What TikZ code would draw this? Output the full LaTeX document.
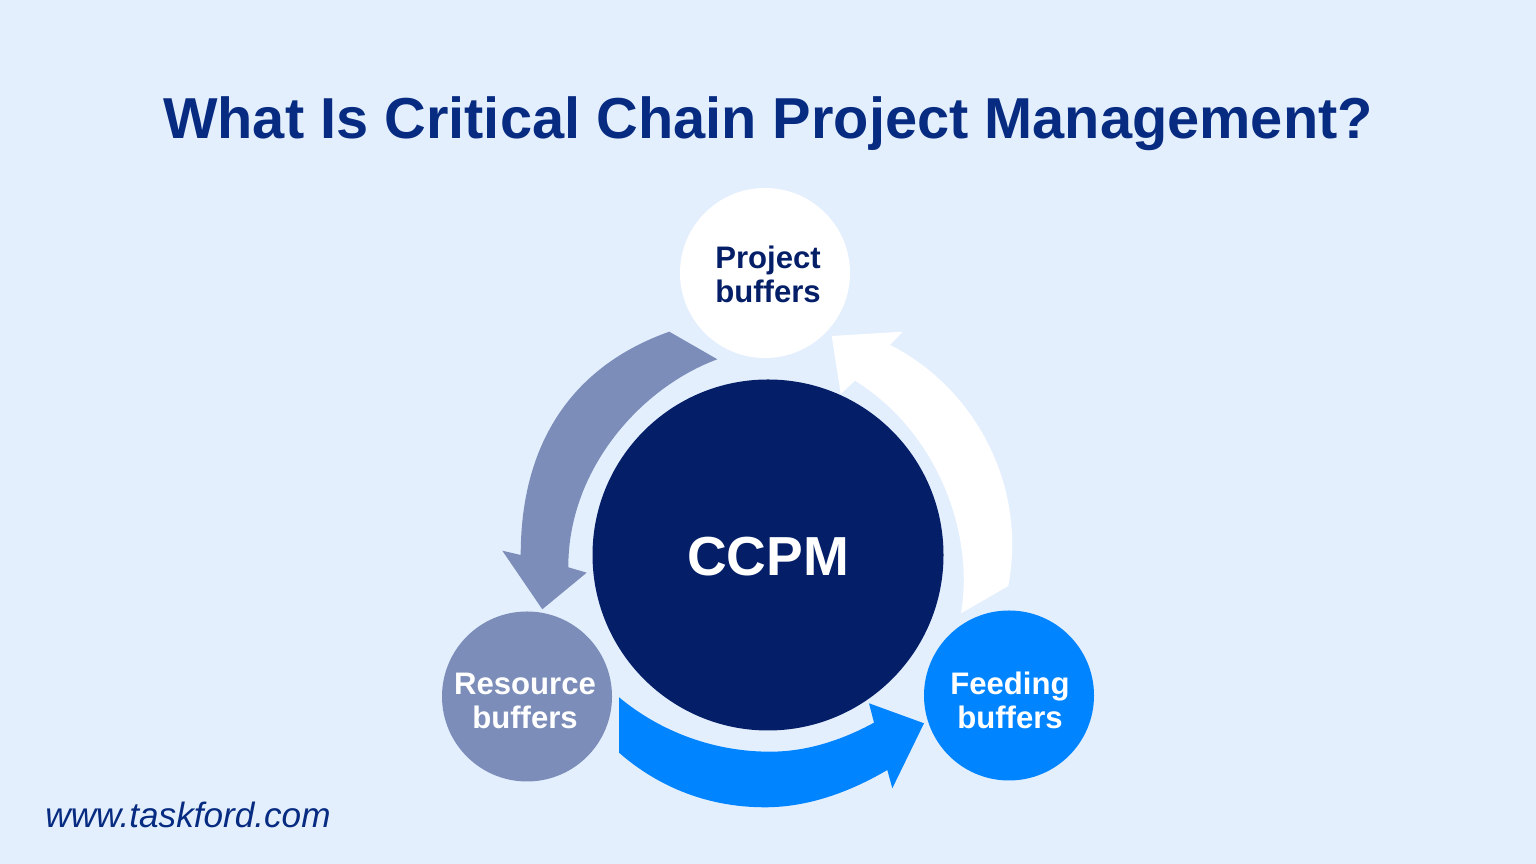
\documentclass[tikz,border=0pt]{standalone}
\usepackage{fontspec}
\setmainfont{Liberation Sans}
\usepackage{xcolor}
\definecolor{pagebg}{HTML}{E4EFFE}
\definecolor{titleblue}{HTML}{062B80}
\definecolor{navy}{HTML}{041F68}
\definecolor{slateblue}{HTML}{7B8DB8}
\definecolor{brightblue}{HTML}{0084FF}
\tikzset{
    bubble/.style={circle, inner sep=0pt, minimum size=1.7cm},
    bubbletext/.style={align=center, font=\fontsize{8.85}{9.7}\selectfont\bfseries}
}

\begin{document}
\begin{tikzpicture}
    % Background
    \fill[pagebg] (0,0) rectangle (15.36,8.64);
    \useasboundingbox (0,0) rectangle (15.36,8.64);

    % Title
    \node[text=titleblue, font=\fontsize{16.43}{18}\selectfont\bfseries] (Title) at (7.68,7.40) {What Is Critical Chain Project Management?};

    % Arrow from Project to Resource
    \fill[slateblue] (6.693,5.323) .. controls (5.75,4.99) and (5.207,4.24) .. (5.207,3.09)
        -- (5.023,3.133) -- (5.423,2.547) -- (5.867,2.913) -- (5.683,2.967)
        .. controls (5.68,3.94) and (6.40,4.76) .. (7.173,5.047) -- cycle;

    % Arrow from Feeding to Project
    \fill[white] (10.083,2.78) .. controls (10.28,3.84) and (9.70,4.79) .. (8.90,5.19)
        -- (9.027,5.323) -- (8.317,5.28) -- (8.407,4.70) -- (8.55,4.833)
        .. controls (9.35,4.34) and (9.75,3.34) .. (9.61,2.507) -- cycle;

    % Arrow from Resource to Feeding
    \fill[brightblue] (6.19,1.667) .. controls (6.614,1.315) and (7.149,1.123) .. (7.70,1.123)
        .. controls (8.08,1.123) and (8.43,1.245) .. (8.74,1.413)
        -- (8.69,1.607) -- (9.24,1.407) -- (8.923,0.757) -- (8.873,0.94)
        .. controls (8.50,0.72) and (8.08,0.567) .. (7.65,0.567)
        .. controls (7.10,0.567) and (6.60,0.755) .. (6.19,1.113) -- cycle;

    % Circle for CCPM
    \node[bubble, fill=navy, minimum size=3.51cm] (Ccpm) at (7.68,3.09) {};
    \node[text=white, font=\fontsize{15.65}{18}\selectfont\bfseries] (CcpmText) at (7.68,3.07) {CCPM};

    % Circle for Project buffers
    \node[bubble, fill=white] (Project) at (7.65,5.91) {};
    \node[bubbletext, text=navy] (ProjectText) at (7.68,5.9) {Project\\buffers};

    % Circle for Resource buffers
    \node[bubble, fill=slateblue] (Resource) at (5.27,1.675) {};
    \node[bubbletext, text=white] (ResourceText) at (5.25,1.63) {Resource\\buffers};

    % Circle for Feeding buffers
    \node[bubble, fill=brightblue] (Feeding) at (10.09,1.685) {};
    \node[bubbletext, text=white] (FeedingText) at (10.1,1.64) {Feeding\\buffers};

    % Website
    \node[text=titleblue, font=\fontsize{10}{12}\selectfont\itshape] (Website) at (1.88,0.49) {www.taskford.com};
\end{tikzpicture}
\end{document}
